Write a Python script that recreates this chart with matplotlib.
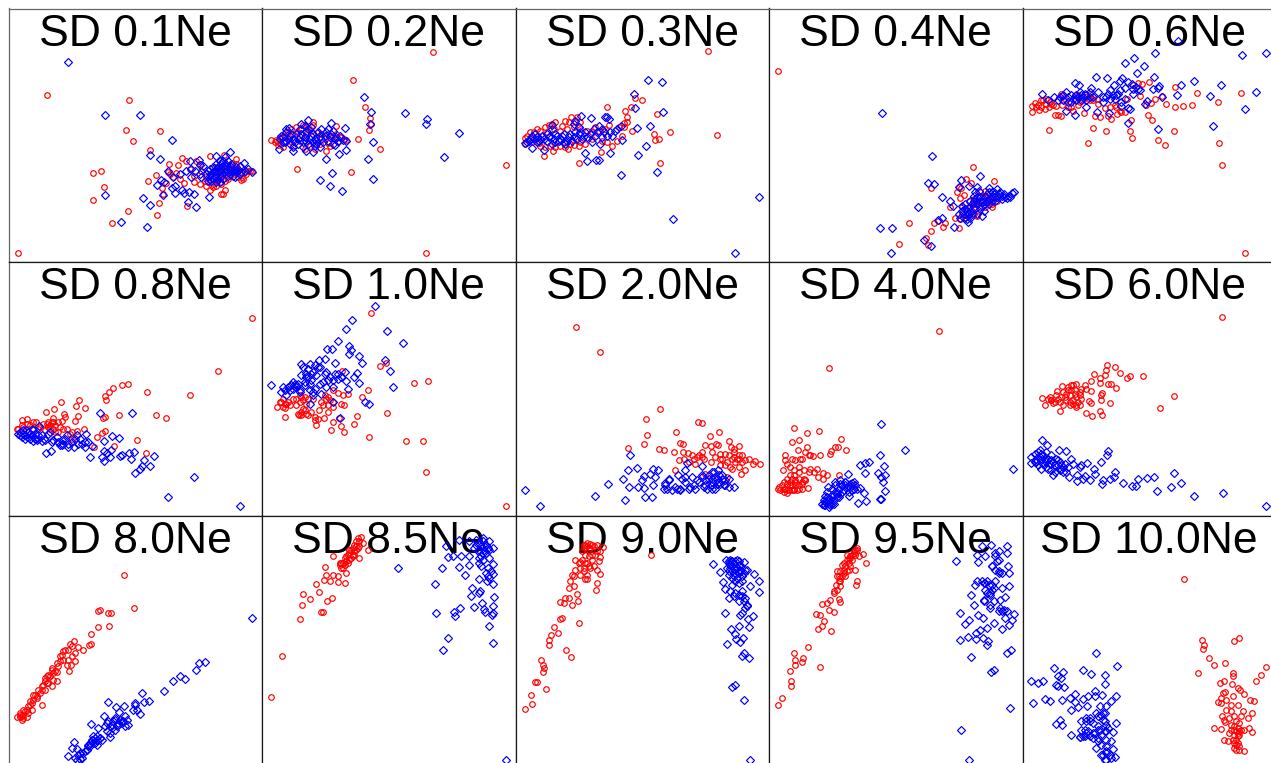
import numpy as np
import matplotlib
matplotlib.use('Agg')
import matplotlib.pyplot as plt

# each panel has its own axis range, values are (x, y) in that panel's units
TITLES = ['SD 0.1Ne', 'SD 0.2Ne', 'SD 0.3Ne', 'SD 0.4Ne', 'SD 0.6Ne',
          'SD 0.8Ne', 'SD 1.0Ne', 'SD 2.0Ne', 'SD 4.0Ne', 'SD 6.0Ne',
          'SD 8.0Ne', 'SD 8.5Ne', 'SD 9.0Ne', 'SD 9.5Ne', 'SD 10.0Ne']

XLIMS = [(25, 787), (787, 1549), (11, 771), (771, 1532), (13, 775)]
YLIMS = [(783, 25), (770, 10), (768, 8)]

RED_01 = [(54,756),(141,285),(387,300),(377,388),(399,421),(480,390),(451,449),(279,517),(303,511),(313,560),(278,599),(384,630),(337,665),(472,642),(476,607),(444,540),(468,523),(508,491),(548,472),(558,482),(535,494),(505,514),(527,516),(497,548),(487,562),(490,580),(553,548),(582,545),(583,526),(561,616),(632,466),(632,569),(620,555),(663,579),(671,579),(676,568),(674,462),(710,475),(725,538),(728,530),(745,510),(758,512),(697,487),(650,540),(640,550),(655,530),(670,520),(690,510),(705,520),(660,500),(680,490),(620,530),(630,520),(600,490),(590,480),(645,515),(715,505),(735,515),(665,550),(685,535),
          (625,545),(640,560),(650,555),(665,545),(675,540),(690,525),(700,505),(715,530),(730,535),(740,520),(750,512),(710,490),(680,505),(660,520),(645,500),(615,540),(605,510),(570,505),(540,535),(520,530),(510,520),(600,550)]
BLUE_01 = [(204,186),(316,344),(420,343),(515,417),(450,464),(479,475),(316,584),(429,593),(449,612),(362,663),(441,678),(490,582),(565,605),(590,618),(629,590),(584,581),(569,573),(547,568),(552,578),(524,576),(516,562),(526,556),(472,552),(484,537),(492,545),(505,512),(518,530),(540,520),(572,482),(558,510),(575,505),(597,478),(600,492),(610,495),(575,530),(600,520),(605,530),(650,467),(690,453),(670,480),(733,486),(758,515),(745,505),(625,510),(630,525),(640,515),(650,520),(660,510),(670,500),(680,495),(690,505),(700,510),(710,500),(720,520),(655,535),(665,525),(675,515),(685,525),(645,530),(635,540),(660,545),(695,490),(665,490),(650,490),(640,500),(720,495),(705,530),(585,510),
           (630,505),(635,520),(645,510),(655,515),(665,505),(675,505),(685,515),(695,500),(705,505),(715,510),(725,515),(735,510),(620,520),(640,535),(650,545),(660,530),(670,535),(680,510),(690,520),(700,525),(710,515),(660,480),(675,470),(685,480),(670,495),(655,500),(645,525),(630,535),(625,540),(690,495)]

RED_02 = [(1301,156),(1061,240),(1097,320),(1111,352),(1114,370),(1108,389),(1077,415),(1141,444),(1054,513),(893,506),(1519,493),(1279,756),(813,419),(828,418),(835,425),(845,430),(860,395),(890,380),(910,372),(940,365),(940,372),(1009,376),(979,450),(1020,410),(1032,415),(985,428),(960,430),(930,435),(900,420),(870,420),(880,400),(920,400),(950,410),(1000,405),(975,415),
          (825,425),(840,410),(855,410),(865,395),(875,385),(895,395),(905,385),(935,390),(955,395),(965,400),(985,400),(1010,400),(1025,408),(1040,418),(1015,425),(990,435),(945,445),(915,445),(880,435),(850,440),(835,432),(920,380)]
BLUE_02 = [(1095,290),(1115,334),(1216,338),(1284,356),(1280,370),(1379,396),(1333,469),(1106,475),(996,517),(961,539),(991,555),(1028,571),(1120,534),(1122,423),(1112,371),(1037,381),(1038,420),(1039,447),(1017,460),(1006,432),(978,474),(994,367),(925,359),(868,381),(839,444),(881,450),(918,450),(940,455),(850,410),(860,420),(870,405),(880,415),(890,400),(900,410),(910,425),(920,395),(930,415),(940,400),(950,420),(960,405),(970,425),(980,395),(990,410),(1000,390),(1015,420),(895,430),(915,375),(945,435),(860,395),(1010,410),
           (845,405),(855,425),(865,415),(875,400),(885,425),(895,415),(905,400),(915,410),(925,430),(935,405),(945,415),(955,395),(965,415),(975,405),(985,420),(995,400),(1005,415),(1020,405),(1030,418),(858,385),(870,430),(880,440),(900,385),(910,440),(920,420),(935,380),(950,430),(965,385),(985,385),(850,425),(840,415),(905,370),(925,385),(940,425),(960,440),(1000,430)]

RED_03 = [(589,152),(369,293),(390,298),(285,319),(356,320),(340,331),(344,350),(436,341),(335,368),(473,394),(614,404),(426,400),(441,414),(428,417),(443,486),(359,390),(202,487),(267,453),(300,435),(315,420),(330,405),(285,425),(97,465),(122,451),(167,445),(40,430),(38,413),(55,395),(75,385),(100,378),(110,372),(128,364),(150,375),(178,350),(190,360),(205,365),(170,365),(85,435),(100,440),(145,435),(185,433),(200,437),(220,430),(240,395),(260,390),(280,385),(320,380),(335,380),
          (45,405),(65,395),(85,390),(105,395),(125,385),(145,390),(165,385),(185,380),(205,385),(225,390),(250,380),(60,425),(80,428),(115,435),(130,440),(160,440),(175,430),(205,425),(240,415),(270,420),(120,370),(160,360),(195,350),(290,372),(345,365)]
BLUE_03 = [(409,240),(449,245),(367,281),(369,323),(453,333),(415,375),(375,381),(403,437),(379,462),(326,522),(434,514),(742,588),(484,654),(670,756),(293,458),(260,477),(252,477),(224,480),(219,456),(278,350),(285,350),(290,355),(236,352),(208,345),(188,360),(120,372),(40,428),(60,442),(97,448),(330,417),(315,385),(328,375),(262,375),(295,395),(270,410),(265,430),(240,425),(210,415),(190,395),(170,410),(150,405),(130,400),(110,410),(90,405),(70,400),(55,415),(80,420),(120,430),(140,420),(160,430),(180,420),(200,400),(220,395),(245,385),(300,405),(275,395),
           (50,420),(60,405),(65,415),(75,410),(85,415),(95,415),(105,400),(115,405),(125,415),(135,405),(145,415),(155,400),(165,420),(175,400),(185,410),(195,415),(205,395),(215,405),(225,410),(235,400),(250,405),(120,385),(185,370),(200,380),(105,420),(130,425),(155,425),(75,425),(45,425),(270,385),(285,405),(310,390),(255,395)]

RED_04 = [(799,211),(1384,498),(1363,534),(1377,548),(1446,540),(1340,560),(1347,563),(1336,575),(1355,582),(1345,591),(1258,563),(1314,618),(1192,665),(1162,728),(1242,710),(1248,732),(1256,690),(1265,666),(1292,677),(1298,665),(1278,660),(1328,650),(1340,680),(1345,655),(1400,590),(1410,600),(1420,620),(1440,620),(1380,630),(1390,610),(1365,640),(1405,575),(1425,590),(1445,580),(1455,600),(1350,620),(1395,645),(1370,600),(1418,570),
          (1350,640),(1360,650),(1375,620),(1385,640),(1400,620),(1415,585),(1430,605),(1385,595),(1400,585),(1440,610),(1395,600)]
BLUE_04 = [(1110,337),(1259,465),(1248,546),(1265,550),(1347,537),(1405,526),(1341,560),(1372,555),(1396,560),(1291,590),(1314,600),(1323,616),(1218,618),(1289,652),(1278,658),(1327,678),(1104,680),(1140,682),(1136,756),(1237,716),(1258,736),(1368,664),(1410,645),(1340,640),(1360,625),(1370,640),(1380,610),(1390,625),(1400,600),(1410,615),(1420,590),(1430,610),(1440,585),(1450,600),(1460,590),(1470,595),(1480,590),(1490,585),(1500,578),(1505,573),(1432,562),(1455,565),(1385,585),(1370,620),(1355,650),(1395,640),(1415,630),(1440,575),(1465,575),(1475,580),(1350,630),(1375,650),
           (1360,610),(1365,630),(1375,600),(1385,600),(1395,590),(1395,610),(1405,590),(1415,600),(1425,600),(1435,595),(1445,590),(1385,620),(1375,630),(1405,625),(1420,610),(1430,575),(1450,578),(1460,580),(1470,585),(1485,592),(1495,588),(1345,650),(1350,615),(1360,640),(1400,570),(1390,575),(1440,600),(1380,640),(1365,655),(1410,605),(1425,580),(1455,590)]

RED_06 = [(41,318),(42,335),(50,307),(63,328),(70,298),(80,325),(85,295),(93,320),(100,310),(110,343),(121,342),(128,346),(132,313),(92,387),(130,280),(145,300),(160,320),(170,285),(185,305),(199,338),(210,428),(226,383),(264,390),(230,345),(247,350),(238,295),(262,323),(280,356),(296,340),(290,315),(310,335),(322,335),(326,297),(338,359),(335,390),(341,413),(390,342),(402,358),(419,417),(442,433),(469,392),(471,260),(393,246),(360,247),(372,250),(345,254),(365,288),(385,315),(400,307),(410,295),(432,288),(444,311),(472,319),(495,317),(521,314),(537,279),(600,304),(669,279),(605,428),(612,492),(682,756),(180,285),(215,300),(115,318),
          (60,315),(75,300),(85,310),(95,305),(105,315),(70,320),(55,320),(135,285),(150,320),(165,330),(180,315),(195,300),(205,290),(225,300),(240,310),(275,320),(295,320),(305,330),(270,345),(215,280),(170,300)]
BLUE_06 = [(480,122),(410,158),(672,165),(745,158),(321,187),(348,174),(378,196),(358,219),(408,231),(234,229),(266,232),(313,234),(306,243),(330,245),(171,249),(182,255),(288,255),(342,250),(360,265),(422,257),(419,264),(405,267),(488,254),(529,242),(611,254),(714,276),(683,326),(476,284),(578,288),(71,281),(587,376),(420,384),(330,368),(335,325),(330,322),(380,312),(388,302),(432,290),(345,280),(320,262),(300,280),(275,268),(265,290),(240,275),(220,262),(200,280),(180,290),(160,285),(145,275),(125,290),(108,290),(90,300),(150,305),(170,342),(143,332),(203,320),(238,335),(272,338),(310,318),(290,295),(215,290),(190,300),(255,305),(320,295),(365,270),
           (135,285),(150,290),(165,295),(175,285),(185,275),(195,290),(205,285),(215,275),(225,290),(160,305),(175,300),(190,285),(205,300),(135,300),(120,300),(270,280),(285,285),(295,285),(305,270),(275,295),(255,290),(345,265),(355,260),(310,305)]

RED_08 = [(758,177),(655,336),(572,410),(441,399),(385,375),(367,380),(340,387),(328,401),(316,411),(318,423),(237,424),(228,441),(184,430),(162,451),(137,460),(255,449),(193,465),(233,471),(196,475),(226,488),(187,487),(160,478),(82,480),(67,484),(107,490),(252,512),(357,469),(469,469),(498,478),(310,477),(316,476),(315,518),(307,522),(292,535),(411,543),(341,562),(439,584),(283,564),(55,510),(70,505),(90,500),(120,505),(140,495),(155,490),(165,500),(150,510),(175,520),(200,512),(230,518),(215,520),(50,510),(175,490),(135,515),
          (65,500),(80,495),(100,510),(115,510),(130,495),(145,490),(160,490),(145,505),(160,510),(180,505),(190,510),(210,525),(215,540),(100,490),(165,520),(150,498)]
BLUE_08 = [(301,463),(395,464),(337,533),(358,537),(311,548),(333,574),(311,578),(321,584),(305,596),(331,596),(313,607),(271,596),(361,593),(365,590),(387,583),(403,581),(461,593),(394,602),(433,605),(427,622),(420,630),(451,621),(405,642),(584,654),(504,715),(721,743),(137,584),(154,577),(53,526),(65,535),(78,515),(95,510),(118,502),(80,535),(100,548),(115,530),(132,540),(150,520),(155,550),(170,535),(180,560),(200,530),(190,555),(205,565),(222,565),(240,540),(258,527),(265,550),(275,562),(255,566),(90,525),(110,545),(70,525),(215,550),(235,555),(125,548),
           (60,520),(70,515),(75,530),(85,520),(90,540),(95,530),(105,525),(105,540),(115,540),(125,530),(135,545),(145,525),(160,545),(175,550),(185,560),(185,545),(195,540),(205,555),(225,540),(230,530),(245,555),(255,550),(60,530),(75,540),(100,515)]

RED_10 = [(1115,164),(1143,323),(1161,312),(1027,338),(1244,373),(1287,367),(1105,393),(1089,414),(1047,406),(1015,403),(999,395),(1164,464),(1072,473),(1064,497),(1110,536),(1221,547),(1271,548),(1281,639),(1519,742),(994,514),(1034,520),(1024,502),(1001,490),(1019,478),(949,500),(973,477),(856,476),(832,446),(845,430),(860,435),(855,447),(880,420),(890,440),(897,470),(910,425),(905,460),(920,435),(925,470),(945,475),(955,480),(958,453),(940,420),(965,430),(980,420),(985,440),(985,460),(1000,430),(1025,435),(1033,440),(1030,410),(905,415),(850,420),(870,440),
          (840,430),(855,435),(850,445),(865,430),(900,430),(910,450),(905,470),(895,465),(915,455),(920,465),(935,460),(945,485),(890,420),(900,410),(915,415),(925,420),(975,410),(985,415),(970,440),(990,425),(1000,445)]
BLUE_10 = [(1128,141),(1057,184),(1040,211),(1162,218),(1015,246),(1210,254),(982,272),(997,272),(1049,262),(1055,273),(1050,285),(1080,291),(1087,314),(1157,303),(1171,336),(1182,384),(1098,431),(1110,436),(1020,478),(1000,431),(814,380),(850,385),(845,400),(860,410),(885,375),(880,390),(900,395),(905,315),(910,325),(930,315),(958,305),(975,300),(1006,314),(1035,340),(1072,342),(1065,355),(1038,367),(1078,372),(1045,390),(1015,360),(1005,345),(980,340),(960,325),(940,340),(920,355),(930,375),(945,390),(965,405),(930,435),(940,410),(985,365),(1000,385),(970,370),(915,380),(870,395),(890,380),
           (855,395),(865,385),(875,380),(880,370),(890,385),(895,375),(900,400),(925,330),(935,345),(945,320),(955,325),(925,355),(935,365),(950,350),(915,370),(930,395),(940,400),(920,345),(905,350),(975,345),(990,355),(1000,365),(1015,345),(1025,355),(960,375),(980,385)]

RED_20 = [(193,206),(265,281),(443,451),(401,482),(404,528),(395,557),(349,569),(442,572),(457,575),(492,520),(558,490),(570,494),(594,533),(621,520),(505,553),(513,557),(487,580),(513,580),(527,583),(490,634),(502,605),(516,600),(545,600),(555,595),(571,580),(579,558),(597,562),(612,556),(618,560),(651,546),(682,562),(657,565),(665,580),(625,585),(640,585),(598,610),(625,620),(640,620),(660,600),(675,600),(690,610),(700,635),(688,645),(660,630),(710,600),(730,607),(743,616),(722,617),(680,590),(580,645),(645,655),(570,595),(550,615),
          (600,580),(610,595),(630,600),(650,590),(665,595),(680,600),(690,590),(700,605),(670,610),(645,610),(655,625),(680,625),(575,600),(560,590),(540,590),(530,610),(665,570),(625,600)]
BLUE_20 = [(353,590),(375,627),(349,635),(333,662),(287,675),(352,686),(250,713),(338,725),(398,714),(419,716),(84,742),(39,695),(395,652),(437,633),(422,632),(415,647),(390,665),(428,655),(378,685),(395,688),(422,680),(472,660),(460,672),(465,690),(480,695),(505,695),(498,650),(525,612),(520,635),(570,623),(617,633),(510,660),(540,655),(535,685),(550,690),(570,650),(580,680),(600,690),(590,660),(605,640),(615,660),(625,675),(640,680),(650,660),(665,685),(630,650),(600,670),(560,670),(520,670),(495,690),
           (570,655),(580,665),(590,650),(600,660),(610,655),(620,650),(630,660),(640,665),(615,675),(600,680),(585,690),(575,685),(555,665),(545,680),(530,690),(520,655),(505,690),(490,685),(460,680),(455,690),(470,665),(600,640),(620,670),(635,680),(650,685),(610,690)]

RED_40 = [(1282,217),(952,328),(846,509),(884,522),(920,516),(840,550),(862,543),(987,540),(978,566),(968,566),(957,577),(955,587),(1002,574),(818,588),(820,605),(858,575),(885,566),(865,600),(895,590),(923,590),(903,592),(813,635),(835,625),(860,625),(890,640),(915,630),(932,642),(945,648),(933,660),(980,649),(918,654),(887,687),(799,691),(826,703),(815,690),(835,680),(850,670),(870,670),(825,660),(860,690),(845,695),(880,665),(905,640),(845,650),(1020,680),
          (800,685),(810,680),(820,690),(830,695),(815,670),(825,675),(835,670),(840,680),(850,665),(860,680),(870,675),(880,665),(845,690),(855,695),(805,695),(840,660),(835,650),(860,660),(815,700),(870,690),(825,695),(850,680),(840,695),(875,660),
          (825,615),(840,600),(850,605),(870,600),(880,580),(890,590),(860,640),(875,635),(895,630),(845,635)]
BLUE_40 = [(1107,497),(1178,575),(1503,631),(1104,590),(1115,623),(1043,620),(1060,614),(1070,610),(1098,643),(1118,650),(1108,655),(1114,670),(1120,696),(1059,643),(1007,647),(1105,722),(1108,722),(1063,728),(1037,732),(1056,703),(1045,688),(1030,680),(1015,685),(1000,670),(985,665),(970,680),(948,684),(960,690),(975,700),(990,700),(1010,712),(1020,695),(938,712),(945,725),(955,720),(935,740),(965,710),(980,715),(950,735),(940,730),(1000,680),(1020,672),
           (930,735),(940,740),(945,715),(955,730),(960,710),(965,725),(970,700),(975,715),(980,690),(985,705),(990,680),(995,695),(1000,670),(1005,685),(1015,675),(1025,690),(935,725),(950,745),(960,735),(975,705),(985,675),(970,670),(1010,700),(1035,690),(945,700),(1025,670),(955,740),(965,735)]

RED_60 = [(613,174),(291,326),(267,318),(265,335),(227,347),(245,357),(262,350),(307,342),(326,357),(335,353),(375,352),(219,366),(246,373),(270,375),(280,376),(294,388),(200,380),(175,375),(132,381),(118,398),(73,418),(80,438),(95,415),(105,432),(125,458),(135,440),(150,395),(160,380),(170,405),(185,410),(218,397),(251,403),(250,410),(212,427),(220,432),(249,425),(277,433),(469,412),(425,449),(205,464),(222,472),(247,456),(252,468),(175,445),(155,440),(185,440),(140,415),(120,420),(100,425),(165,425),(190,390),
          (100,425),(115,410),(125,430),(135,400),(145,425),(155,410),(165,435),(170,395),(175,415),(180,430),(190,420),(150,385),(160,395),(130,415),(110,430),(90,420),(145,405),(165,380),(185,400),(205,390),(155,430),(175,440)]
BLUE_60 = [(71,543),(88,560),(122,573),(143,577),(270,578),(266,590),(158,600),(250,610),(208,612),(40,595),(40,612),(65,575),(75,590),(55,610),(70,630),(90,600),(105,610),(85,625),(100,635),(105,650),(120,605),(130,620),(135,640),(150,625),(152,654),(165,615),(185,625),(190,620),(228,630),(230,645),(178,648),(177,666),(195,660),(215,665),(200,652),(292,640),(288,655),(277,660),(255,665),(252,675),(316,672),(342,682),(353,682),(361,660),(388,658),(407,655),(469,643),(490,672),(460,684),(418,697),(528,712),(615,703),(745,742),
           (50,585),(55,600),(60,620),(65,595),(70,605),(75,615),(80,600),(85,610),(90,630),(95,615),(100,590),(110,620),(115,600),(120,620),(125,610),(130,630),(135,625),(140,615),(145,640),(50,610),(60,580),(70,585),(85,580),(100,605),(125,635),(110,640)]

RED_80 = [(373,187),(403,285),(293,294),(300,292),(324,299),(332,301),(294,341),(328,339),(273,363),(222,385),(210,392),(267,395),(272,394),(233,403),(249,412),(190,415),(205,410),(180,430),(225,420),(215,430),(226,445),(213,455),(200,455),(208,475),(155,465),(172,477),(160,480),(145,485),(135,495),(172,505),(155,520),(125,520),(135,530),(100,545),(125,576),(110,555),(90,565),(85,580),(95,590),(70,590),(60,605),(52,612),(65,620),(82,613),(190,440),(170,450),(140,510),
          (60,600),(70,605),(75,595),(80,590),(85,600),(90,575),(100,560),(105,545),(110,550),(115,530),(125,530),(130,515),(135,505),(140,490),(150,490),(155,470),(165,475),(175,460),(180,445),(185,425),(195,410),(60,612),(70,615),(120,540),(145,510),(160,500),(95,570),(205,440),(215,400),(65,610)]
BLUE_80 = [(758,316),(615,447),(597,450),(589,472),(540,490),(557,499),(518,504),(491,535),(425,541),(447,563),(432,566),(405,570),(323,568),(371,578),(349,583),(313,609),(357,598),(272,633),(420,602),(385,636),(400,590),(375,610),(365,625),(345,620),(325,625),(335,645),(330,672),(350,640),(300,675),(290,670),(275,680),(265,695),(222,687),(215,704),(205,728),(232,708),(250,720),(240,738),(232,742),(295,645),(315,640),(355,630),(285,690),(305,680),(260,710),
           (235,725),(240,720),(245,735),(255,715),(265,700),(270,690),(275,680),(280,670),(285,675),(290,680),(300,675),(270,700),(280,690),(320,630),(330,640),(340,625),(345,650),(355,635),(360,620),(370,625),(380,620),(320,655),(330,660),(335,635),(345,615),(365,630),(375,640),(405,575),(410,590),(225,735),(290,695)]

RED_85 = [(846,430),(814,553),(902,317),(907,275),(910,242),(931,257),(957,238),(949,212),(972,200),(1000,130),(975,163),(980,187),(990,205),(1000,185),(1015,208),(1037,209),(998,256),(981,265),(965,297),(970,298),(1020,150),(1030,165),(1040,180),(1035,135),(1045,125),(1055,110),(1065,95),(1075,75),(1085,72),(1090,90),(1078,135),(1105,112),(1062,125),(1045,150),(1015,190),(1025,150),(1070,110),(1080,100),
          (1040,130),(1050,120),(1060,105),(1065,115),(1070,85),(1080,85),(1075,105),(1060,130),(1050,140),(1030,150),(1020,155),(1035,155),(1040,145),(1025,165),(1055,135),(1065,125),(1070,100),(1050,110)]
BLUE_85 = [(1196,165),(1329,165),(1306,213),(1311,299),(1346,376),(1331,410),(1481,389),(1469,340),(1365,298),(1367,310),(1382,284),(1423,281),(1447,271),(1453,288),(1480,278),(1458,297),(1482,300),(1478,307),(1485,252),(1415,248),(1443,235),(1418,224),(1440,197),(1462,205),(1480,212),(1480,182),(1460,180),(1397,185),(1378,162),(1345,131),(1340,98),(1360,130),(1385,130),(1410,155),(1440,150),(1480,152),(1380,80),(1410,85),(1430,80),(1450,75),(1470,85),(1480,105),(1455,100),(1440,110),(1460,120),(1470,135),(1425,105),(1465,165),(1445,160),(1519,741),
           (1440,90),(1445,100),(1450,85),(1455,110),(1460,95),(1465,105),(1470,110),(1450,120),(1445,130),(1435,115),(1430,95),(1450,140),(1470,195),(1465,190),(1475,175),(1440,240),(1440,135),(1410,130)]

RED_90 = [(417,127),(273,102),(225,90),(240,95),(255,95),(215,105),(230,110),(265,115),(250,125),(265,132),(190,140),(205,148),(225,150),(240,140),(260,145),(215,165),(235,165),(255,172),(263,183),(218,198),(225,197),(205,185),(190,170),(180,185),(175,205),(256,210),(252,230),(185,220),(170,225),(196,243),(197,263),(170,255),(160,255),(143,268),(155,270),(180,277),(150,316),(143,318),(201,329),(125,342),(137,361),(116,366),(112,382),(112,397),(163,412),(176,432),(87,440),(93,457),(97,465),(94,477),(68,506),(76,508),(102,528),(56,546),(59,573),(39,589),
          (215,95),(225,100),(235,105),(245,100),(210,115),(220,125),(230,130),(240,125),(255,115),(210,140),(220,150),(230,160),(215,175),(225,185),(205,165),(245,160),(220,95),(235,92),(200,150),(185,190)]
BLUE_90 = [(604,152),(642,140),(695,147),(625,178),(725,183),(632,208),(740,205),(714,218),(742,238),(640,228),(650,255),(640,301),(682,339),(722,310),(707,319),(712,342),(658,349),(669,363),(671,379),(693,376),(683,388),(644,392),(695,420),(690,430),(712,435),(670,515),(660,523),(695,562),(715,741),(655,140),(675,140),(660,160),(680,160),(700,170),(650,175),(670,180),(690,190),(660,195),(680,210),(660,215),(690,235),(700,255),(680,265),(705,280),(690,300),(670,240),(655,235),(665,150),(650,150),(685,175),
           (650,145),(660,145),(670,145),(680,145),(655,165),(665,165),(675,165),(685,155),(660,175),(670,170),(680,180),(650,185),(665,190),(675,195),(690,205),(670,205),(695,180),(705,170),(655,155),(685,170),(645,165),(690,250),(695,265),(680,245),(700,285),(685,305),(705,275),(665,250)]

RED_95 = [(1061,151),(1054,124),(1030,110),(1040,130),(1020,125),(1005,140),(990,155),(975,175),(1010,170),(1028,172),(1000,190),(985,205),(1036,203),(1032,215),(972,215),(965,235),(980,258),(985,268),(955,262),(930,273),(945,270),(950,290),(965,296),(912,303),(924,305),(935,325),(930,338),(918,348),(958,353),(888,403),(847,419),(850,440),(872,435),(870,447),(848,457),(925,462),(835,473),(838,505),(838,518),(809,554),(799,576),(1015,135),(1025,120),(1035,110),(995,170),(980,190),
          (985,175),(995,180),(975,190),(985,195),(1000,160),(1010,150),(1015,130),(1020,140),(1025,115),(1030,125),(1035,105),(995,150),(1005,175),(985,220),(975,230),(965,240),(1010,135),(990,190),(980,205),(1015,160),(1005,125)]
BLUE_95 = [(1333,145),(1409,98),(1437,95),(1486,100),(1395,125),(1420,128),(1398,148),(1460,115),(1485,120),(1450,130),(1455,145),(1488,158),(1440,160),(1460,175),(1490,180),(1395,203),(1388,217),(1415,210),(1425,205),(1450,205),(1490,220),(1470,225),(1440,230),(1378,247),(1420,230),(1435,245),(1480,252),(1387,275),(1415,265),(1445,265),(1465,262),(1435,285),(1465,285),(1485,295),(1505,302),(1345,300),(1398,307),(1412,315),(1370,322),(1360,332),(1445,330),(1470,348),(1425,345),(1405,350),(1393,360),(1368,373),(1343,380),(1393,378),(1412,375),(1428,385),(1426,396),(1497,410),(1486,419),(1378,433),(1445,470),(1437,478),(1495,584),(1347,650),(1372,741),(1500,322),(1490,335),(1480,315),
           (1410,205),(1420,210),(1430,215),(1440,215),(1445,225),(1435,240),(1425,240),(1440,160),(1450,170),(1460,180),(1470,180),(1450,120),(1460,140),(1415,260),(1460,295),(1470,295),(1475,290),(1435,275)]

RED_100 = [(498,198),(553,382),(560,397),(556,408),(648,385),(663,374),(575,434),(589,457),(621,450),(542,481),(745,463),(731,486),(715,505),(646,480),(646,490),(620,503),(608,510),(642,513),(662,524),(668,530),(615,540),(622,537),(645,550),(680,542),(698,561),(710,565),(600,567),(610,570),(660,575),(625,590),(640,595),(675,595),(702,600),(612,610),(650,610),(690,615),(622,628),(640,635),(665,630),(589,644),(609,647),(695,645),(702,658),(650,650),(635,660),(665,665),(620,682),(630,685),(655,680),(650,705),(665,710),(678,714),
           (650,640),(655,655),(660,645),(665,655),(650,665),(660,670),(670,650),(645,680),(655,695),(660,690),(650,690),(665,700),(655,710),(660,660),(640,650),(680,650),(620,620),(635,615),(670,610),(655,625),(610,555),(625,560),(640,575)]
BLUE_100 = [(235,419),(298,458),(108,465),(195,470),(220,482),(134,477),(120,490),(130,495),(262,487),(262,512),(40,505),(60,510),(75,505),(115,517),(120,520),(138,522),(232,533),(172,544),(155,555),(133,560),(82,559),(95,565),(44,571),(194,557),(210,550),(230,550),(253,545),(294,550),(278,563),(172,567),(180,581),(158,591),(207,578),(245,580),(265,580),(125,620),(114,632),(133,636),(158,667),(185,672),(190,625),(205,615),(215,625),(235,600),(255,600),(293,629),(262,625),(240,640),(190,650),(210,655),(225,660),(285,657),(265,655),(240,675),(280,683),(265,680),(235,705),(285,708),(290,733),(265,720),(280,735),(265,742),(250,725),(200,670),
            (205,625),(215,615),(225,630),(240,610),(250,605),(260,600),(255,620),(265,635),(270,645),(245,650),(250,665),(205,660),(195,670),(215,670),(225,675),(240,685),(250,695),(265,715),(275,725),(255,725),(265,700),(240,650),(230,660),(260,655),(185,672),(200,650),(260,740)]

REDS = [RED_01, RED_02, RED_03, RED_04, RED_06, RED_08, RED_10, RED_20,
        RED_40, RED_60, RED_80, RED_85, RED_90, RED_95, RED_100]
BLUES = [BLUE_01, BLUE_02, BLUE_03, BLUE_04, BLUE_06, BLUE_08, BLUE_10, BLUE_20,
         BLUE_40, BLUE_60, BLUE_80, BLUE_85, BLUE_90, BLUE_95, BLUE_100]

W, H = 1271, 763
LEFT, TOP, SIZE = 8.5, 8.5, 253.5

fig = plt.figure(figsize=(W / 100, H / 100), dpi=100, facecolor='white')

for i, title in enumerate(TITLES):
    row, col = divmod(i, 5)

    # panels of the last row and column run past the edge of the picture
    x0 = LEFT + col * SIZE
    y0 = H - (TOP + (row + 1) * SIZE)
    ax = fig.add_axes([x0 / W, y0 / H, SIZE / W, SIZE / H])
    ax.set_xlim(XLIMS[col])
    ax.set_ylim(YLIMS[row])
    ax.set_xticks([])
    ax.set_yticks([])

    for spine in ax.spines.values():
        spine.set_linewidth(0.9)
        spine.set_color('#1a1a1a')
    if row == 0:
        ax.spines['top'].set_color('#666666')
    if col == 0:
        ax.spines['left'].set_color('#666666')

    ax.text(0.5, 0.853, title, transform=ax.transAxes, ha='center', va='baseline',
            fontsize=32, family='Liberation Sans', color='black', zorder=1)

    red = np.array(REDS[i])
    blue = np.array(BLUES[i])
    ax.plot(red[:, 0], red[:, 1], ls='none', marker='o', ms=4.0, mfc='none',
            mec='#ff0000', mew=0.85, zorder=2)
    ax.plot(blue[:, 0], blue[:, 1], ls='none', marker='D', ms=3.6, mfc='none',
            mec='#0000ff', mew=0.85, zorder=3)

fig.savefig('out.png', dpi=100)
